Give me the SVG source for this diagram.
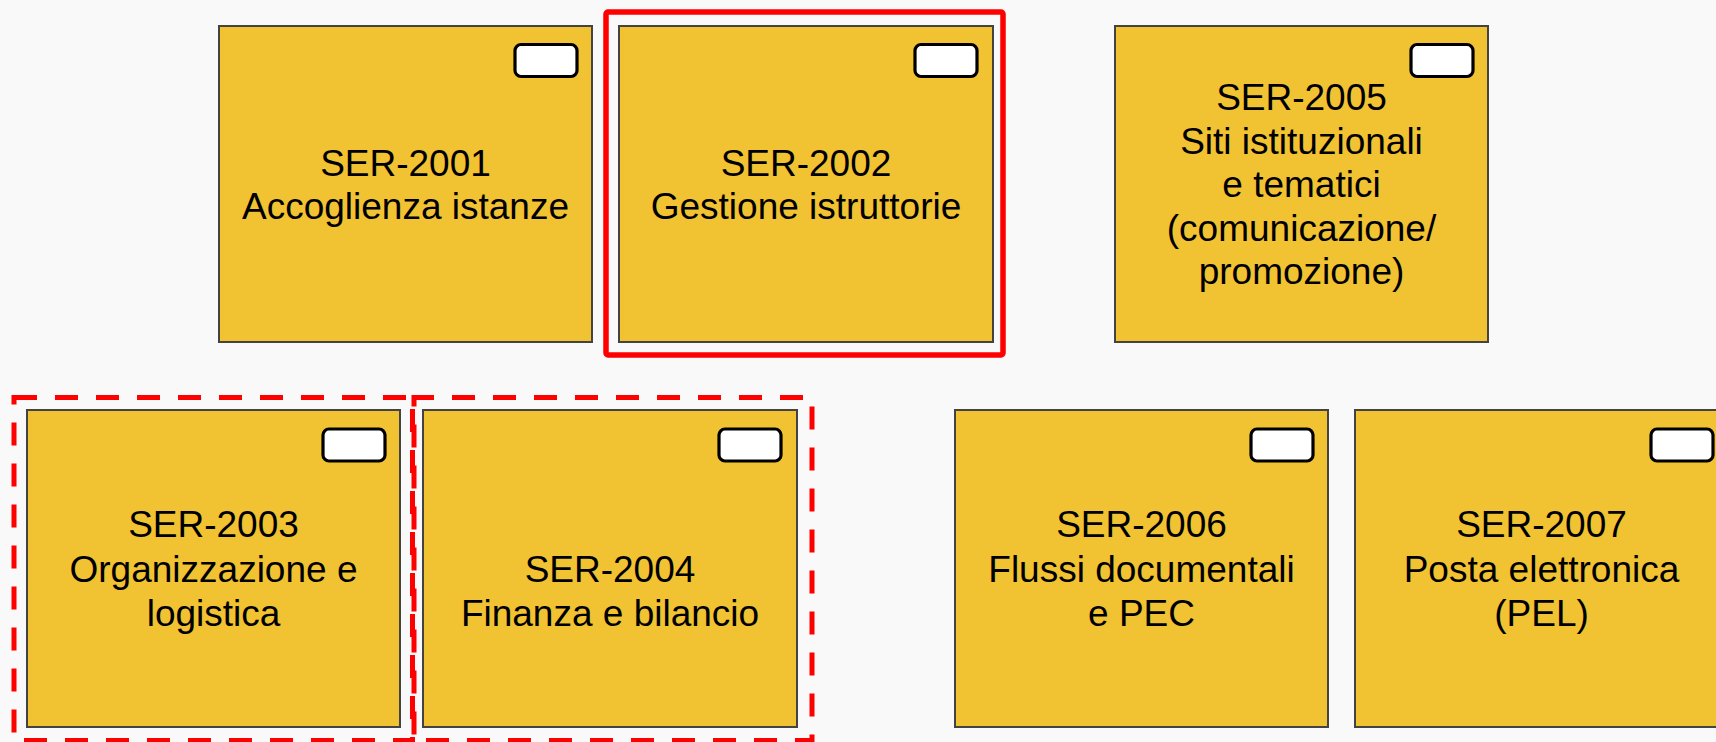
<svg xmlns="http://www.w3.org/2000/svg" width="1716" height="742" viewBox="0 0 1716 742">
<style>
.box{fill:#f1c232;stroke:#434343;stroke-width:2}
.badge{fill:#ffffff;stroke:#000000;stroke-width:3.2}
.lbl{font-family:"Liberation Sans",Arial,sans-serif;font-size:37px;fill:#000000;text-anchor:middle}
.sel{fill:none;stroke:#ff0000;stroke-width:5.5}
.dash{fill:none;stroke:#ff0000;stroke-width:5;stroke-dasharray:23 18}
</style>
<rect x="0" y="0" width="1716" height="742" fill="#f9f9f9"/>
<g id="connectors"></g>
<g id="ser2001">
<rect class="box" x="219" y="26" width="373" height="316"/>
<rect class="badge" x="515" y="44.5" width="62" height="32" rx="6"/>
<text class="lbl" x="405.5" y="175.7">SER-2001</text>
<text class="lbl" x="405.5" y="219">Accoglienza istanze</text>
</g>
<g id="ser2002">
<rect class="sel" x="606" y="12" width="397" height="343" rx="2"/>
<rect class="box" x="619" y="26" width="374" height="316"/>
<rect class="badge" x="915" y="44.5" width="62" height="32" rx="6"/>
<text class="lbl" x="806" y="175.7">SER-2002</text>
<text class="lbl" x="806" y="219">Gestione istruttorie</text>
</g>
<g id="ser2005">
<rect class="box" x="1115" y="26" width="373" height="316"/>
<rect class="badge" x="1411" y="44.5" width="62" height="32" rx="6"/>
<text class="lbl" x="1301.5" y="110">SER-2005</text>
<text class="lbl" x="1301.5" y="153.5">Siti istituzionali</text>
<text class="lbl" x="1301.5" y="197">e tematici</text>
<text class="lbl" x="1301.5" y="240.5">(comunicazione/</text>
<text class="lbl" x="1301.5" y="284">promozione)</text>
</g>
<g id="ser2003">
<rect class="dash" x="14" y="397.5" width="398.5" height="343"/>
<rect class="box" x="27" y="410" width="373" height="317"/>
<rect class="badge" x="323" y="429" width="62" height="32" rx="6"/>
<text class="lbl" x="213.5" y="537.3">SER-2003</text>
<text class="lbl" x="213.5" y="581.7">Organizzazione e</text>
<text class="lbl" x="213.5" y="625.7">logistica</text>
</g>
<g id="ser2004">
<rect class="dash" x="414" y="397.5" width="398" height="343" stroke-dashoffset="3"/>
<rect class="box" x="423" y="410" width="374" height="317"/>
<rect class="badge" x="719" y="429" width="62" height="32" rx="6"/>
<text class="lbl" x="610" y="581.7">SER-2004</text>
<text class="lbl" x="610" y="625.7">Finanza e bilancio</text>
</g>
<g id="ser2006">
<rect class="box" x="955" y="410" width="373" height="317"/>
<rect class="badge" x="1251" y="429" width="62" height="32" rx="6"/>
<text class="lbl" x="1141.5" y="537.3">SER-2006</text>
<text class="lbl" x="1141.5" y="581.7">Flussi documentali</text>
<text class="lbl" x="1141.5" y="625.7">e PEC</text>
</g>
<g id="ser2007">
<rect class="box" x="1355" y="410" width="373" height="317"/>
<rect class="badge" x="1651" y="429" width="62" height="32" rx="6"/>
<text class="lbl" x="1541.5" y="537.3">SER-2007</text>
<text class="lbl" x="1541.5" y="581.7">Posta elettronica</text>
<text class="lbl" x="1541.5" y="625.7">(PEL)</text>
</g>
</svg>
